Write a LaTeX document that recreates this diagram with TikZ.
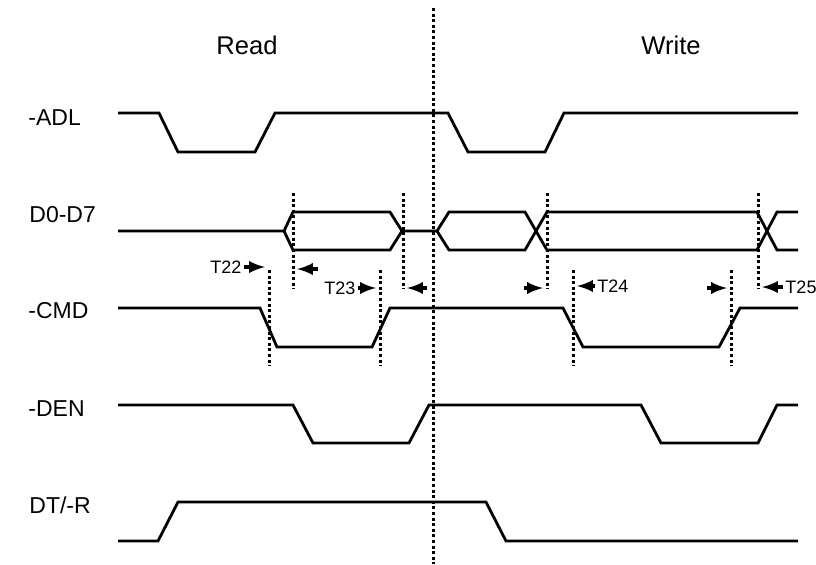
\documentclass[tikz,border=0pt]{standalone}
\usepackage{fontspec}
\setmainfont{Liberation Sans}
\usepackage{tikz}
\usetikzlibrary{positioning,arrows}

\tikzset{
	wave/.style={black, line width=1.4pt, line join=miter},
	marker/.style={black, line width=1.5pt, dash pattern=on 1.5pt off 1.3pt},
	tarr/.style={black, line width=1.7pt, -latex},
	signame/.style={anchor=west, inner sep=0pt, font=\fontsize{11.5}{13}\selectfont},
	phase/.style={inner sep=0pt, font=\fontsize{12.8}{14}\selectfont},
	tname/.style={inner sep=0pt, font=\fontsize{9}{10}\selectfont}
}

\begin{document}
\begin{tikzpicture}[x=0.5pt, y=-0.5pt]

	\useasboundingbox (0,0) rectangle (816,564);

	\node[phase] (read) at (247,45) {Read};
	\node[phase] (write) at (671,45) {Write};

	\node[signame] (adl) at (28,118) {-ADL};
	\node[signame] (data) at (29,215) {D0-D7};
	\node[signame] (cmd) at (28,311) {-CMD};
	\node[signame] (den) at (28,409) {-DEN};
	\node[signame] (dtr) at (29,505) {DT/-R};

	\draw[marker] (433,8) -- (433,564);

	\draw[wave] (118,113) -- (159,113) -- (178,152) -- (255,152) -- (275,113) -- (448,113) -- (468,152) -- (545,152) -- (564,113) -- (798,113);

	\draw[wave] (118,231) -- (284,231) -- (293,212) -- (390,212) -- (402,231) -- (437,231) -- (449,212) -- (525,212) -- (547,250) -- (757,250) -- (777,212) -- (798,212);
	\draw[wave] (284,231) -- (293,250) -- (390,250) -- (402,231);
	\draw[wave] (437,231) -- (449,250) -- (525,250) -- (547,212) -- (757,212) -- (777,250) -- (798,250);

	\draw[wave] (118,308) -- (260,308) -- (277,347) -- (372,347) -- (390,308) -- (563,308) -- (583,347) -- (719,347) -- (740,308) -- (798,308);

	\draw[wave] (118,405) -- (293,405) -- (313,443) -- (409,443) -- (429,405) -- (641,405) -- (661,443) -- (758,443) -- (777,405) -- (798,405);

	\draw[wave] (118,541) -- (158,541) -- (178,502) -- (486,502) -- (506,541) -- (798,541);

	\foreach \x in {293,403,547,758}
		\draw[marker] (\x,193) -- (\x,289);
	\foreach \x in {269,380,573,731}
		\draw[marker] (\x,270) -- (\x,366);

	\node[tname] (t22) at (226,267) {T22};
	\node[tname] (t23) at (340,288) {T23};
	\node[tname] (t24) at (613,286) {T24};
	\node[tname] (t25) at (801,287) {T25};

	\coordinate (t22tip) at (265,267);
	\coordinate (t23tip) at (376,288);
	\coordinate (t24tip) at (577,286);
	\coordinate (t25tip) at (762,287);

	\draw[tarr] (t22.east) ++(2,0) -- (t22tip);
	\draw[tarr] (t23.east) ++(2,0) -- (t23tip);
	\draw[tarr] (t24.west) ++(-2,0) -- (t24tip);
	\draw[tarr] (t25.west) ++(-2,0) -- (t25tip);

	\draw[tarr] (318,269) -- (297,269);
	\draw[tarr] (427,288) -- (407,288);
	\draw[tarr] (524,288) -- (543,288);
	\draw[tarr] (707,288) -- (727,288);

\end{tikzpicture}
\end{document}
